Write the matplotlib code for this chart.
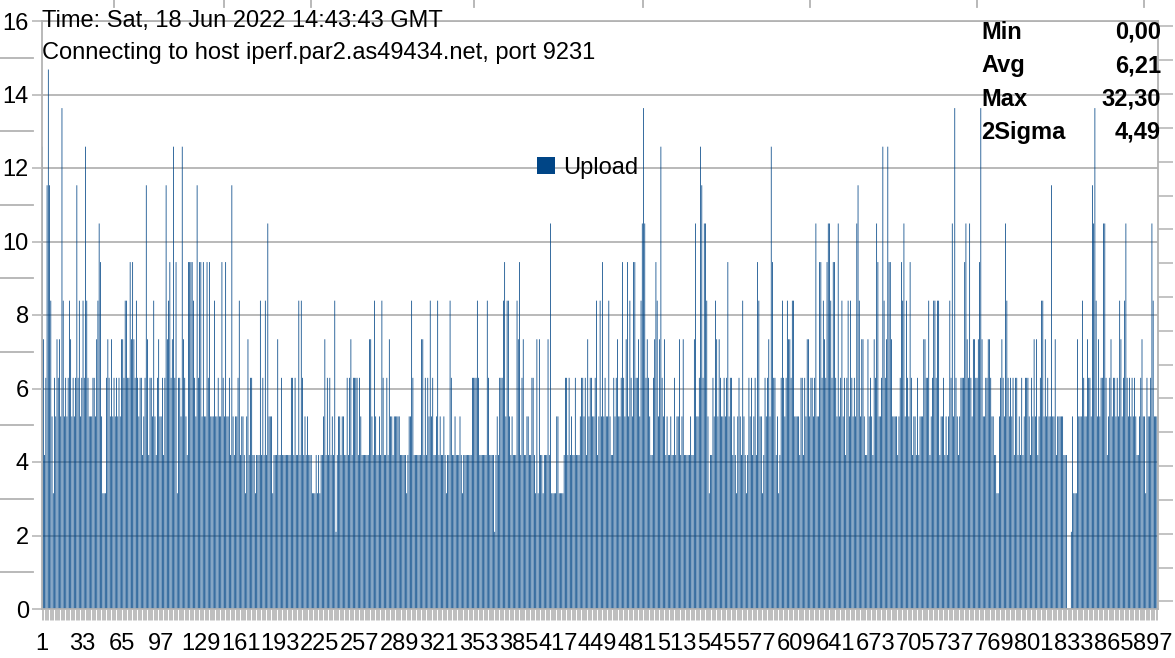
import matplotlib
matplotlib.use("Agg")
import matplotlib.pyplot as plt
import matplotlib.transforms as mtransforms
from matplotlib.lines import Line2D

plt.rcParams["font.family"] = ["Liberation Sans", "DejaVu Sans"]

# ---- data -------------------------------------------------------------
# throughput levels observed in the chart (Mbit/s), keyed by a one-char code
LEVELS = {"0": 0.00, "2": 2.10, "3": 3.15, "4": 4.19, "5": 5.24, "6": 6.29,
          "7": 7.34, "8": 8.39, "9": 9.44, "a": 10.49, "b": 11.53,
          "c": 12.58, "d": 13.63, "e": 14.68}

# one code per sample, 100 samples per block
upload_001_100 = ("c746beb853 657675d856 56875656b6 85686c8655 566578a953 "
                  "3367657565 6565776886 6979768656 6456b74665 8546755646")
upload_101_200 = ("b78967c693 665c765499 99865b6995 9559695558 5565596595 "
                  "564b545568 4554357466 4434448464 84a5553444 7446444444")
upload_201_300 = ("4664644848 6454544433 3434344574 6464548245 5455446467 "
                  "4666646544 4444775485 4454864464 7554555554 4444345586")
upload_301_400 = ("4444447746 4658564458 4544543448 6445444543 4444444666 "
                  "6864444448 6444424546 6689588545 4448794674 4554466437")
upload_401_500 = ("3744344474 a333355333 3466464544 6444566564 7566556845 "
                  "8595655854 4656755696 5795865996 6758ada676 544679857c")
upload_501_600 = ("6574544544 6455745744 4445447a55 6cb6aa8534 4658757655 "
                  "6569566454 3565485434 6564564985 53465675c9 6645346865")
upload_601_700 = ("6877688555 5466465775 6656a55996 8769aa8699 65a5685646 "
                  "8586565ab8 5775447565 476a9556c8 67c9975555 45698a5865")
upload_701_800 = ("9645546455 5776684568 8688455645 4586a5d654 56669a76a6 "
                  "5776679d75 5667765544 3356765a86 5656466454 6456665465")
upload_801_900 = ("7574568857 5655b55745 5555444000 2533375558 6557665bad "
                  "857566aa64 5675665658 7568a65656 5654456755 36556a8555")

blocks = [upload_001_100, upload_101_200, upload_201_300, upload_301_400,
          upload_401_500, upload_501_600, upload_601_700, upload_701_800,
          upload_801_900]
codes = "".join(b.replace(" ", "") for b in blocks)
upload = [LEVELS[c] for c in codes]
samples = list(range(1, len(upload) + 1))

x_tick_labels = ["1", "33", "65", "97", "129", "161", "193", "225", "257",
                 "289", "321", "353", "385", "417", "449", "481", "513",
                 "545", "577", "609", "641", "673", "705", "737", "769",
                 "801", "833", "865", "897"]
y_ticks = [0, 2, 4, 6, 8, 10, 12, 14, 16]

header_lines = ["Time: Sat, 18 Jun 2022 14:43:43 GMT",
                "Connecting to host iperf.par2.as49434.net, port 9231"]
stat_names = ["Min", "Avg", "Max", "2Sigma"]
stat_values = ["0,00", "6,21", "32,30", "4,49"]
series_name = "Upload"

# ---- figure -----------------------------------------------------------
W, H = 1175, 658
fig = plt.figure(figsize=(W / 100, H / 100), dpi=100)
fig.patch.set_facecolor("white")

def fx(px):
    return px / W

def fy(py):
    return 1 - py / H

L, R, T, B = 41.5, 1157.5, 21, 609
ax = fig.add_axes([fx(L), fy(B), fx(R) - fx(L), fy(T) - fy(B)])

GRID = "#b3b3b3"
BAR = "#004586"

bars = ax.bar(samples, upload, width=0.62, color=BAR, linewidth=0,
              zorder=2, label=series_name)
for b in bars:
    b.set_snap(False)
ax.set_xlim(0.5, len(upload) + 0.5)
ax.set_ylim(0, 16)
ax.set_axisbelow(True)
ax.yaxis.grid(True, color=GRID, linewidth=1.3)

ax.set_yticks(y_ticks)
ax.set_yticklabels([str(v) for v in y_ticks])
ax.tick_params(axis="y", labelsize=17, length=7, width=1.1, color=GRID,
               pad=2, labelcolor="black")

ax.set_xticks([int(s) for s in x_tick_labels])
ax.set_xticklabels(x_tick_labels)
ax.set_xticks(samples, minor=True)
ax.tick_params(axis="x", which="major", labelsize=17, length=8, width=0.6,
               color=GRID, pad=9.5)
ax.tick_params(axis="x", which="minor", length=8, width=0.6, color=GRID)

for side in ["left", "right", "top", "bottom"]:
    ax.spines[side].set_color(GRID)
    ax.spines[side].set_linewidth(1.3)

# secondary (unlabelled) scale on the right
ax2 = ax.twinx()
ax2.set_ylim(-0.2247, 17.161)
ax2.set_yticks(list(range(18)))
ax2.tick_params(axis="y", right=True, labelright=False, length=11,
                width=1.1, color=GRID)
for side in ["left", "right", "top", "bottom"]:
    ax2.spines[side].set_visible(False)

# short gray marks on the far left at odd values
blend = mtransforms.blended_transform_factory(fig.transFigure, ax.transData)
for v in [1, 3, 5, 7, 9, 11, 13, 15]:
    fig.add_artist(Line2D([0, fx(33)], [v, v], transform=blend,
                          color=GRID, linewidth=1.3))
# small marks along the top edge
for px in [114, 224, 311, 474, 643, 810, 977, 1144]:
    fig.add_artist(Line2D([fx(px), fx(px)], [fy(0), fy(7)],
                          transform=fig.transFigure, color=GRID,
                          linewidth=1.3))

# header text
fig.text(fx(42), fy(27), header_lines[0], fontsize=17, va="baseline")
fig.text(fx(42), fy(59), header_lines[1], fontsize=17, va="baseline")

# statistics block
for i, (n, v) in enumerate(zip(stat_names, stat_values)):
    yb = 39 + i * 33.3
    fig.text(fx(981), fy(yb), n, fontsize=17, fontweight="bold",
             va="baseline")
    fig.text(fx(1161), fy(yb), v, fontsize=17, fontweight="bold",
             va="baseline", ha="right")

# legend
ax.legend(loc="center", bbox_to_anchor=(fx(588), fy(168)),
          bbox_transform=fig.transFigure, frameon=False, fontsize=17,
          handlelength=0.75, handleheight=0.75, handletextpad=0.35,
          borderpad=0, borderaxespad=0)

fig.savefig("out.png", dpi=100, facecolor="white")
